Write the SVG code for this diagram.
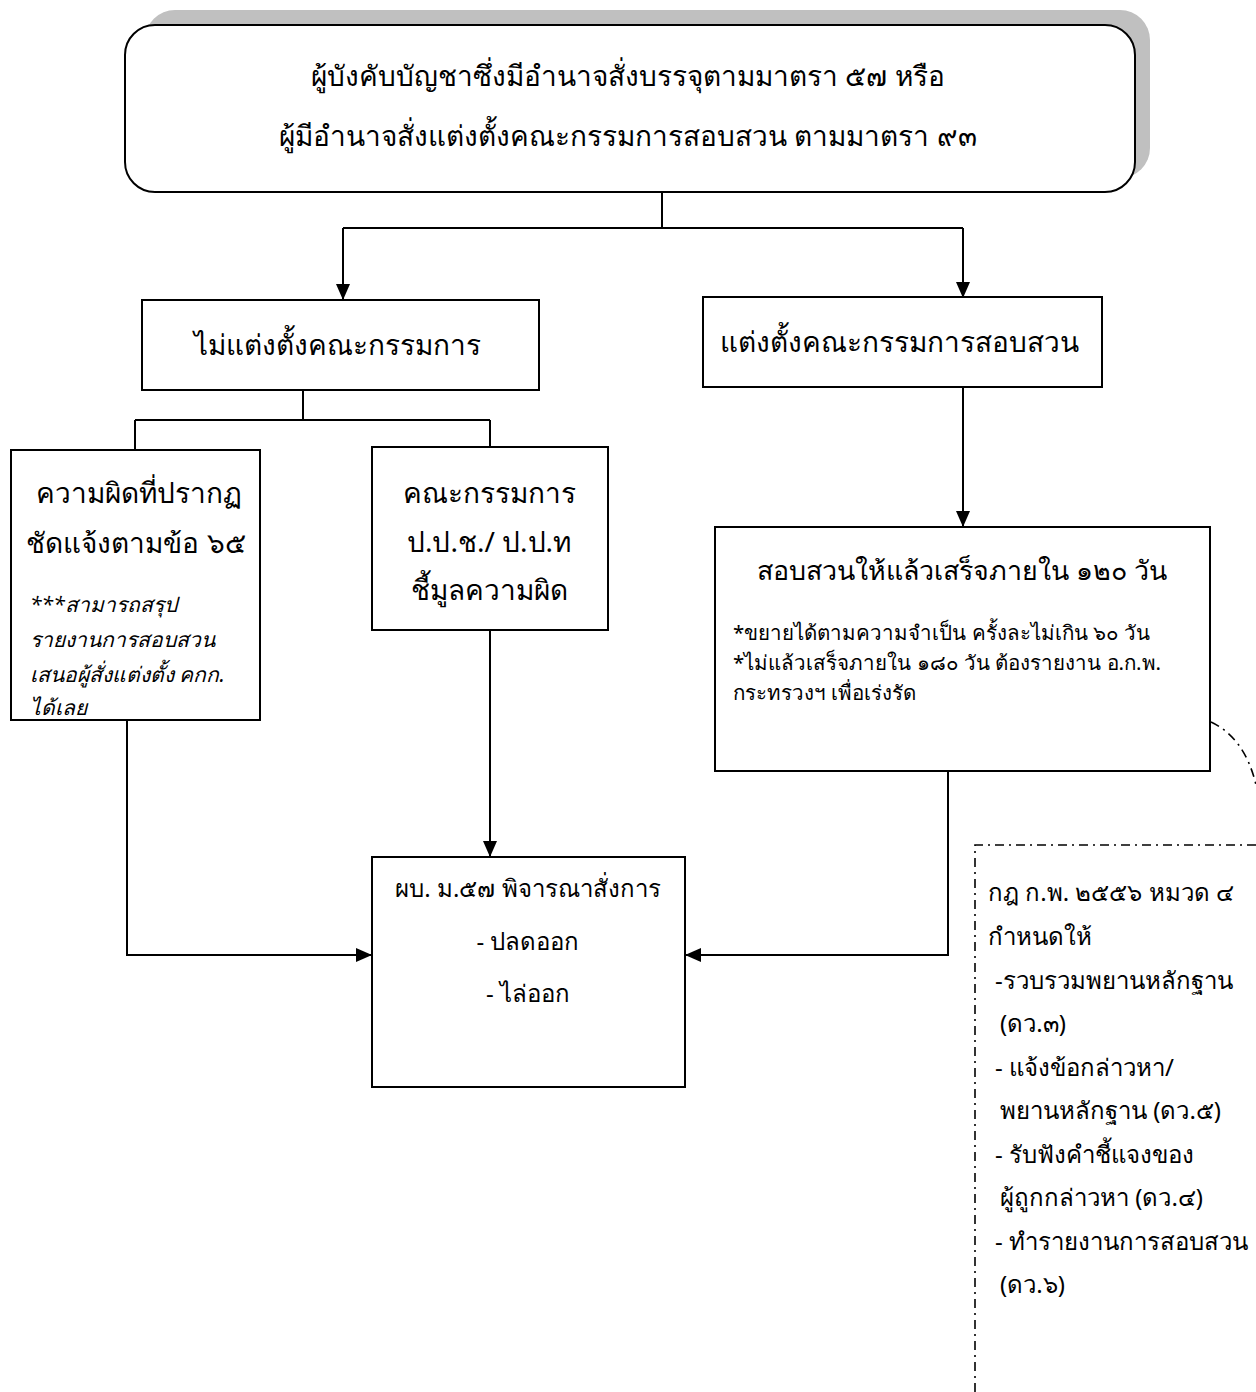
<svg xmlns="http://www.w3.org/2000/svg" width="1256" height="1392" viewBox="0 0 1256 1392">
<style>
text{font-family:"Noto Sans","DejaVu Sans",sans-serif;fill:#000}
.box{fill:#fff;stroke:#000;stroke-width:2}
.ln{fill:none;stroke:#000;stroke-width:2}
.big{font-size:28px}
.mid{font-size:24px}
.ttl{font-size:26.8px}
.sm{font-size:20.5px}
.rl{font-size:24px}
.it{font-size:21px;font-style:italic}
.c{text-anchor:middle}
.dd{fill:none;stroke:#000;stroke-width:1.6;stroke-dasharray:9 5 2 5}
</style>
<defs>
<marker id="ahb" viewBox="0 0 16 14" refX="16" refY="7" markerWidth="16" markerHeight="14" markerUnits="userSpaceOnUse" orient="auto">
<path d="M0,0 L16,7 L0,14 z" fill="#000"/>
</marker>
</defs>
<rect width="1256" height="1392" fill="#fff"/>
<g id="connectors">
<path class="ln" d="M662,192 V228 M343,228 H963"/>
<path class="ln" d="M343,228 V300" marker-end="url(#ahb)"/>
<path class="ln" d="M963,228 V298" marker-end="url(#ahb)"/>
<path class="ln" d="M303,390 V420 M135,420 H490 M135,420 V450 M490,420 V447"/>
<path class="ln" d="M963,387 V527" marker-end="url(#ahb)"/>
<path class="ln" d="M490,630 V857" marker-end="url(#ahb)"/>
<path class="ln" d="M127,720 V955 H372" marker-end="url(#ahb)"/>
<path class="ln" d="M948,771 V955 H685" marker-end="url(#ahb)"/>
<path class="dd" d="M1211,722 Q1245,738 1256,785"/>
</g>
<g id="top">
<rect x="145" y="10" width="1005" height="168" rx="30" fill="#c0c0c0"/>
<rect class="box" x="125" y="25" width="1010" height="167" rx="30"/>
<text class="big c" x="628" y="86">ผู้บังคับบัญชาซึ่งมีอำนาจสั่งบรรจุตามมาตรา ๕๗ หรือ</text>
<text class="big c" x="628" y="146">ผู้มีอำนาจสั่งแต่งตั้งคณะกรรมการสอบสวน ตามมาตรา ๙๓</text>
</g>
<g id="no-committee">
<rect class="box" x="142" y="300" width="397" height="90"/>
<text class="big c" x="337" y="355">ไม่แต่งตั้งคณะกรรมการ</text>
</g>
<g id="committee">
<rect class="box" x="703" y="297" width="399" height="90"/>
<text class="big c" x="899" y="352">แต่งตั้งคณะกรรมการสอบสวน</text>
</g>
<g id="clear-fault">
<rect class="box" x="11" y="450" width="249" height="270"/>
<text class="big c" x="139" y="503">ความผิดที่ปรากฏ</text>
<text class="big c" x="136" y="553">ชัดแจ้งตามข้อ ๖๕</text>
<text class="it" x="30" y="612">***สามารถสรุป</text>
<text class="it" x="30" y="647">รายงานการสอบสวน</text>
<text class="it" x="30" y="682">เสนอผู้สั่งแต่งตั้ง คกก.</text>
<text class="it" x="30" y="715">ได้เลย</text>
</g>
<g id="nacc">
<rect class="box" x="372" y="447" width="236" height="183"/>
<text class="big c" x="489" y="503">คณะกรรมการ</text>
<text class="big c" x="489" y="552">ป.ป.ช./ ป.ป.ท</text>
<text class="big c" x="489" y="600">ชี้มูลความผิด</text>
</g>
<g id="investigate">
<rect class="box" x="715" y="527" width="495" height="244"/>
<text class="ttl c" x="962" y="580">สอบสวนให้แล้วเสร็จภายใน ๑๒๐ วัน</text>
<text class="sm" x="733" y="640">*ขยายได้ตามความจำเป็น ครั้งละไม่เกิน ๖๐ วัน</text>
<text class="sm" x="733" y="670">*ไม่แล้วเสร็จภายใน ๑๘๐ วัน ต้องรายงาน อ.ก.พ.</text>
<text class="sm" x="733" y="700">กระทรวงฯ เพื่อเร่งรัด</text>
</g>
<g id="decision">
<rect class="box" x="372" y="857" width="313" height="230"/>
<text class="mid c" x="528" y="897">ผบ. ม.๕๗ พิจารณาสั่งการ</text>
<text class="mid c" x="528" y="950">- ปลดออก</text>
<text class="mid c" x="528" y="1002">- ไล่ออก</text>
</g>
<g id="rules">
<path class="dd" d="M975,1392 V845 H1256"/>
<text class="rl" x="988" y="901">กฎ ก.พ. ๒๕๕๖ หมวด ๔</text>
<text class="rl" x="988" y="945">กำหนดให้</text>
<text class="rl" x="995" y="989">-รวบรวมพยานหลักฐาน</text>
<text class="rl" x="1000" y="1032">(ดว.๓)</text>
<text class="rl" x="995" y="1076">- แจ้งข้อกล่าวหา/</text>
<text class="rl" x="1000" y="1119">พยานหลักฐาน (ดว.๕)</text>
<text class="rl" x="995" y="1163">- รับฟังคำชี้แจงของ</text>
<text class="rl" x="1000" y="1206">ผู้ถูกกล่าวหา (ดว.๔)</text>
<text class="rl" x="995" y="1250">- ทำรายงานการสอบสวน</text>
<text class="rl" x="1000" y="1293">(ดว.๖)</text>
</g>
</svg>
